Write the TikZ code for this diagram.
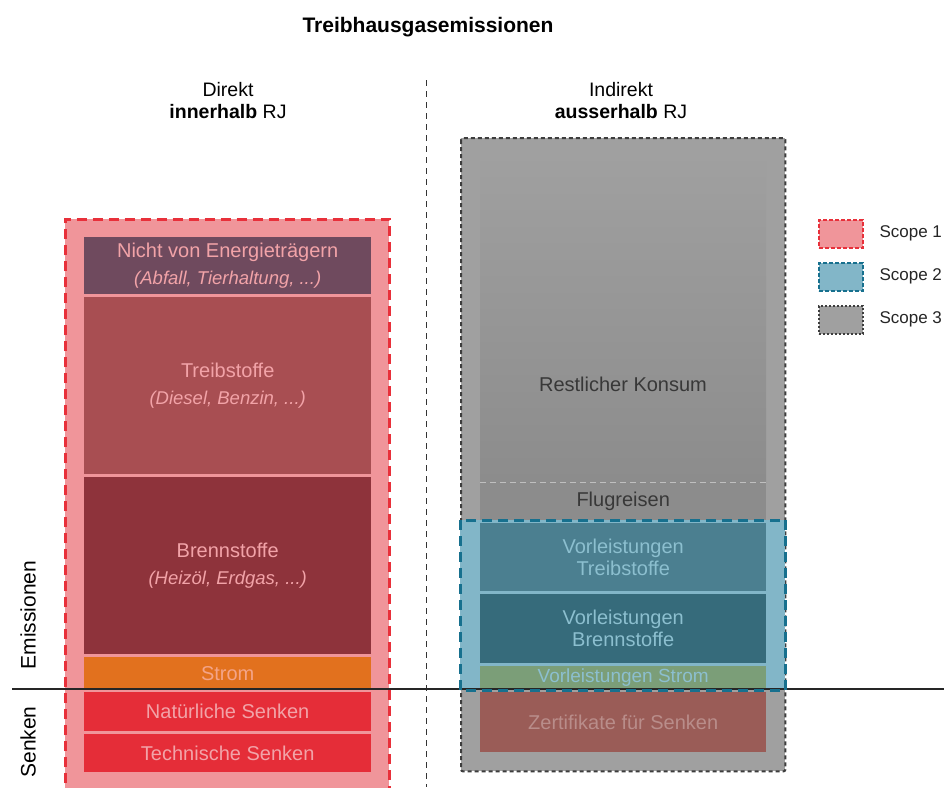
\documentclass[tikz,border=0pt]{standalone}
\usepackage{fontspec}
\setmainfont{Liberation Sans}
\definecolor{sOnePink}{HTML}{F0959A}
\definecolor{sOneRed}{HTML}{E8303A}
\definecolor{cNicht}{HTML}{6F4A5E}
\definecolor{cTreib}{HTML}{A84E52}
\definecolor{cBrenn}{HTML}{8E333B}
\definecolor{cStrom}{HTML}{E2711E}
\definecolor{cSenk}{HTML}{E52D38}
\definecolor{tPink}{HTML}{F2A3A8}
\definecolor{tStrom}{HTML}{F4A488}
\definecolor{sTwoFill}{HTML}{82B6C8}
\definecolor{sTwoLine}{HTML}{17708E}
\definecolor{cVT}{HTML}{4B7F90}
\definecolor{cVB}{HTML}{366B7B}
\definecolor{cVS}{HTML}{7B9E78}
\definecolor{tBlue}{HTML}{8CBFCF}
\definecolor{sThreeFill}{HTML}{A0A0A0}
\definecolor{sThreeLine}{HTML}{3D3D3D}
\definecolor{cFlug}{HTML}{8C8C8C}
\definecolor{cZert}{HTML}{9A5C57}
\definecolor{tZert}{HTML}{B98D8A}
\definecolor{tDark}{HTML}{383838}
\begin{document}
\begin{tikzpicture}[x=1pt,y=-1pt,
  box/.style={draw=none, inner sep=0pt, anchor=north west, align=center},
  lbl/.style={font=\fontsize{20}{26}\selectfont},
  twol/.style={font=\fontsize{20}{26.5}\selectfont},
  scopeone/.style={draw=sOneRed, line width=3pt, dash pattern=on 10pt off 6pt},
  scopetwo/.style={draw=sTwoLine, line width=3pt, dash pattern=on 10pt off 6pt},
  scopethree/.style={draw=sThreeLine, line width=2pt, dash pattern=on 4pt off 3pt},
  legbox/.style={inner sep=0pt, anchor=north west, minimum width=44, minimum height=28},
  legtxt/.style={anchor=west, font=\fontsize{17}{20}\selectfont, text=black!85}
]
\useasboundingbox (0,0) rectangle (944,787);
\fill[white] (0,0) rectangle (944,787);

% title and headers
\node[font=\fontsize{21}{24}\selectfont\bfseries] (title) at (428,27) {Treibhausgasemissionen};
\node[font=\fontsize{19.5}{22}\selectfont, align=center] (hleft) at (228,101) {Direkt\\\textbf{innerhalb} RJ};
\node[font=\fontsize{19.5}{22}\selectfont, align=center] (hright) at (621,101) {Indirekt\\\textbf{ausserhalb} RJ};

% divider
\coordinate (vtop) at (426,80);
\coordinate (vbot) at (426,787);
\draw[black!80, line width=0.8pt, dash pattern=on 6pt off 5pt] (vtop) -- (vbot);

% left column (scope 1)
\node[box, fill=sOnePink, minimum width=324, minimum height=580] (s1) at (65,219) {};
\node[box, twol, fill=cNicht, minimum width=287, minimum height=57, text=tPink] (nicht) at (84,237)
  {Nicht von Energieträgern\\{\fontsize{18.5}{26}\selectfont\itshape (Abfall, Tierhaltung, ...)}};
\node[box, twol, fill=cTreib, minimum width=287, minimum height=177, text=tPink] (treib) at (84,297)
  {Treibstoffe\\{\fontsize{18.5}{26}\selectfont\itshape (Diesel, Benzin, ...)}};
\node[box, twol, fill=cBrenn, minimum width=287, minimum height=177, text=tPink] (brenn) at (84,477)
  {Brennstoffe\\{\fontsize{18.5}{26}\selectfont\itshape (Heizöl, Erdgas, ...)}};
\node[box, lbl, fill=cStrom, minimum width=287, minimum height=32, text=tStrom] (strom) at (84,657) {Strom};
\node[box, lbl, fill=cSenk, minimum width=287, minimum height=39, text=tPink] (nat) at (84,692) {Natürliche Senken};
\node[box, lbl, fill=cSenk, minimum width=287, minimum height=38, text=tPink] (tech) at (84,734) {Technische Senken};
\draw[scopeone] (s1.south west) -- (s1.north west) -- (s1.north east) -- (s1.south east);

% right column (scope 3)
\node[box, fill=sThreeFill, minimum width=324, minimum height=633] (s3) at (461,138) {};
\node[box, top color=sThreeFill, bottom color=cFlug, minimum width=286, minimum height=330] (rest) at (480,152) {};
\node[lbl, text=tDark] (resttxt) at (623,384) {Restlicher Konsum};
\node[box, lbl, fill=cFlug, minimum width=286, minimum height=38, text=tDark] (flug) at (480,482) {Flugreisen};
\draw[black!25, line width=0.8pt, dash pattern=on 6pt off 4pt] (flug.north west) -- (flug.north east);
\node[box, lbl, fill=cZert, minimum width=286, minimum height=60, text=tZert] (zert) at (480,692) {Zertifikate für Senken};
\draw[scopethree, rounded corners=2pt] (s3.north west) rectangle (s3.south east);

% scope 2
\node[box, fill=sTwoFill, minimum width=325, minimum height=170] (s2) at (460,520) {};
\node[box, fill=cVT, minimum width=286, minimum height=68, text=tBlue, font=\fontsize{20}{22}\selectfont] (vt) at (480,523) {Vorleistungen\\Treibstoffe};
\node[box, fill=cVB, minimum width=286, minimum height=69, text=tBlue, font=\fontsize{20}{22}\selectfont] (vb) at (480,594) {Vorleistungen\\Brennstoffe};
\node[box, fill=cVS, minimum width=286, minimum height=23, text=tBlue, font=\fontsize{19}{22}\selectfont] (vs) at (480,666) {Vorleistungen Strom};

% horizontal line
\coordinate (hl) at (12,689);
\coordinate (hr) at (944,689);
\draw[black!85, line width=1.6pt] (hl) -- (hr);
\draw[scopetwo] (s2.north west) rectangle (s2.south east);

% side labels
\node[rotate=90, font=\fontsize{21}{24}\selectfont] (emis) at (28,615) {Emissionen};
\node[rotate=90, font=\fontsize{21}{24}\selectfont] (senk) at (28,742) {Senken};

% legend
\node[legbox, fill=sOnePink, draw=sOneRed, line width=1.5pt, dash pattern=on 4pt off 2pt] (l1) at (818,219) {};
\node[legtxt] (l1t) at (876,233) {Scope 1};
\node[legbox, fill=sTwoFill, draw=sTwoLine, line width=1.5pt, dash pattern=on 4pt off 2pt] (l2) at (818,262) {};
\node[legtxt] (l2t) at (876,276) {Scope 2};
\node[legbox, fill=sThreeFill, draw=sThreeLine, line width=1.5pt, dash pattern=on 2pt off 2pt] (l3) at (818,305) {};
\node[legtxt] (l3t) at (876,319) {Scope 3};
\end{tikzpicture}
\end{document}
